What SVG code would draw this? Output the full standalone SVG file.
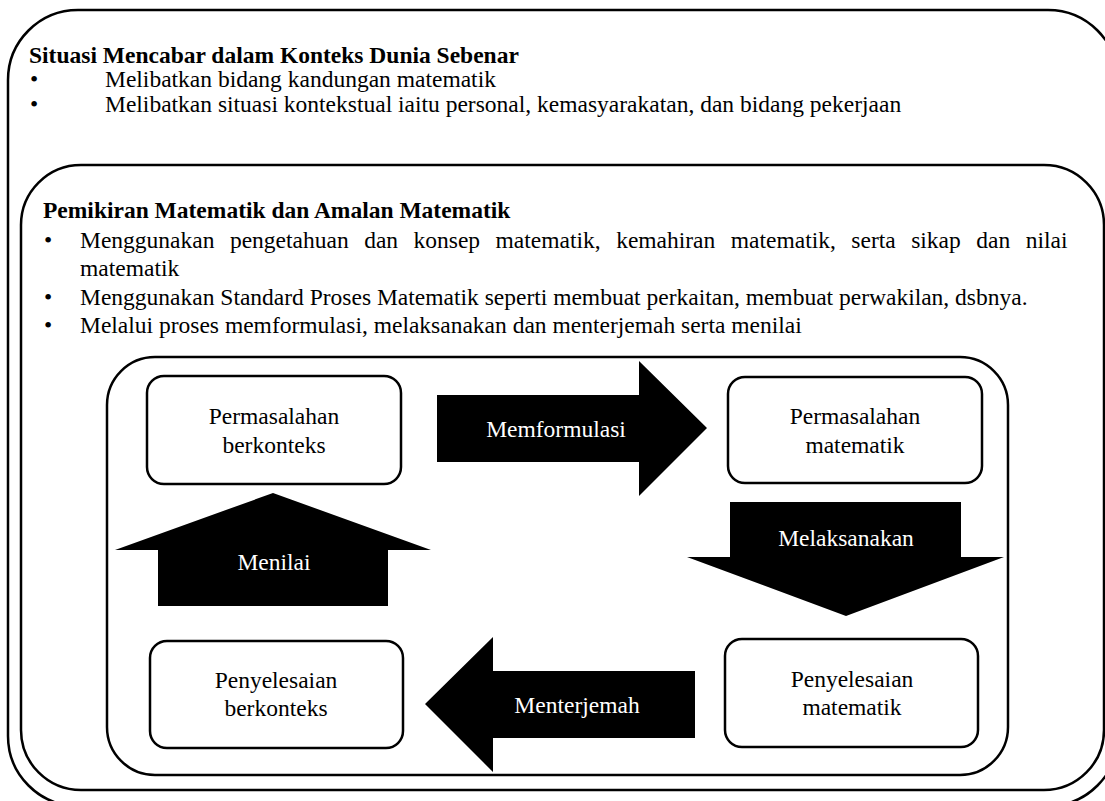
<svg xmlns="http://www.w3.org/2000/svg" width="1105" height="801" viewBox="0 0 1105 801">
<style>
.frame{fill:none;stroke:#000;stroke-width:2.5}
.node{fill:#fff;stroke:#000;stroke-width:2.5}
.t{font-family:"Liberation Serif","Times New Roman",serif;font-size:23.5px;fill:#000}
.b{font-weight:bold}
.c{text-anchor:middle}
.w{fill:#fff}
.arrow{fill:#000}
</style>
<rect width="1105" height="801" fill="#fff"/>
<g id="outer">
<rect class="frame" x="8" y="10" width="1110" height="796" rx="70" ry="70"/>
<text class="t b" x="29" y="63">Situasi Mencabar dalam Konteks Dunia Sebenar</text>
<text class="t" x="30" y="87">•</text><text class="t" x="105" y="87">Melibatkan bidang kandungan matematik</text>
<text class="t" x="30" y="112">•</text><text class="t" x="105" y="112">Melibatkan situasi kontekstual iaitu personal, kemasyarakatan, dan bidang pekerjaan</text>
</g>
<g id="middle">
<rect class="frame" x="21" y="165" width="1083" height="625" rx="60" ry="60"/>
<text class="t b" x="43" y="218">Pemikiran Matematik dan Amalan Matematik</text>
<text class="t" x="44" y="248">•</text><text class="t" x="80" y="248" word-spacing="9.6">Menggunakan pengetahuan dan konsep matematik, kemahiran matematik, serta sikap dan nilai</text>
<text class="t" x="80" y="276">matematik</text>
<text class="t" x="44" y="305">•</text><text class="t" x="80" y="305">Menggunakan Standard Proses Matematik seperti membuat perkaitan, membuat perwakilan, dsbnya.</text>
<text class="t" x="44" y="333">•</text><text class="t" x="80" y="333">Melalui proses memformulasi, melaksanakan dan menterjemah serta menilai</text>
</g>
<g id="inner">
<rect class="frame" x="107" y="357" width="901" height="418" rx="48" ry="48"/>
</g>
<g id="node-permasalahan-berkonteks">
<rect class="node" x="147" y="376" width="254" height="108" rx="17" ry="17"/>
<text class="t c" x="274" y="424">Permasalahan</text>
<text class="t c" x="274" y="453">berkonteks</text>
</g>
<g id="node-permasalahan-matematik">
<rect class="node" x="728" y="377" width="254" height="106" rx="17" ry="17"/>
<text class="t c" x="855" y="424">Permasalahan</text>
<text class="t c" x="855" y="453">matematik</text>
</g>
<g id="node-penyelesaian-berkonteks">
<rect class="node" x="150" y="641" width="253" height="107" rx="17" ry="17"/>
<text class="t c" x="276" y="688">Penyelesaian</text>
<text class="t c" x="276" y="716">berkonteks</text>
</g>
<g id="node-penyelesaian-matematik">
<rect class="node" x="725" y="639" width="253" height="108" rx="17" ry="17"/>
<text class="t c" x="852" y="687">Penyelesaian</text>
<text class="t c" x="852" y="715">matematik</text>
</g>
<g id="connectors">
<g id="memformulasi">
<polygon class="arrow" points="437,395 639,395 639,361 707,428 639,496 639,462 437,462"/>
<text class="t c w" x="556" y="437">Memformulasi</text>
</g>
<g id="melaksanakan">
<polygon class="arrow" points="730,502 961,502 961,557 1004,557 846,616 687,557 730,557"/>
<text class="t c w" x="846" y="546">Melaksanakan</text>
</g>
<g id="menterjemah">
<polygon class="arrow" points="695,671 493,671 493,637 425,704 493,772 493,738 695,738"/>
<text class="t c w" x="577" y="713">Menterjemah</text>
</g>
<g id="menilai">
<polygon class="arrow" points="158,606 158,550 115,550 273,493 431,550 388,550 388,606"/>
<text class="t c w" x="274" y="570">Menilai</text>
</g>
</g>
</svg>
